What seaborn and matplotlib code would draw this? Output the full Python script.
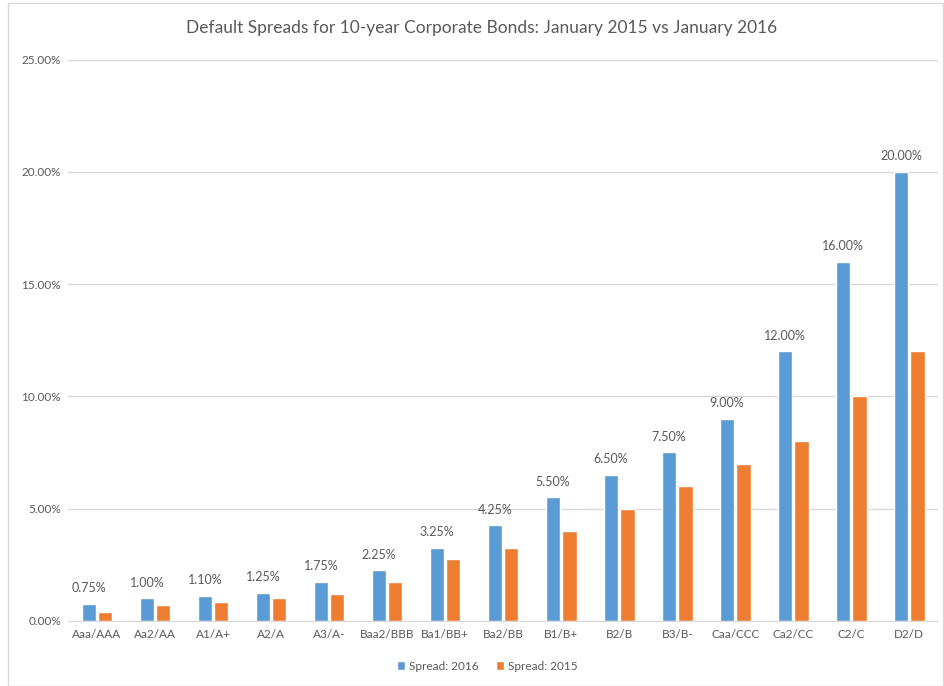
import pandas as pd
import matplotlib.pyplot as plt
import seaborn as sns
from matplotlib.patches import Rectangle
from matplotlib.ticker import FuncFormatter

# ===============================
# Data
# ===============================

ratings = ["Aaa/AAA", "Aa2/AA", "A1/A+", "A2/A", "A3/A-", "Baa2/BBB",
           "Ba1/BB+", "Ba2/BB", "B1/B+", "B2/B", "B3/B-", "Caa/CCC",
           "Ca2/CC", "C2/C", "D2/D"]
spread_2016 = [0.75, 1.00, 1.10, 1.25, 1.75, 2.25, 3.25, 4.25, 5.50, 6.50,
               7.50, 9.00, 12.00, 16.00, 20.00]
spread_2015 = [0.40, 0.70, 0.85, 1.00, 1.20, 1.75, 2.75, 3.25, 4.00, 5.00,
               6.00, 7.00, 8.00, 10.00, 12.00]
series_names = ["Spread: 2016", "Spread: 2015"]

df = pd.DataFrame({
    "Rating": ratings * 2,
    "Spread": spread_2016 + spread_2015,
    "Series": [series_names[0]] * len(ratings) + [series_names[1]] * len(ratings),
})

# ===============================
# Plot
# ===============================

sns.set_style("white")
plt.rcParams["font.family"] = ["Lato", "DejaVu Sans"]

text_gray = "#595959"

fig = plt.figure(figsize=(9.45, 6.86), dpi=100)
ax = fig.add_axes([0.072, 0.095, 0.921, 0.818])

sns.barplot(
    data=df,
    x="Rating",
    y="Spread",
    hue="Series",
    palette=["#5B9BD5", "#ED7D31"],
    saturation=1,
    width=0.56,
    gap=0.12,
    ax=ax,
)

ax.bar_label(ax.containers[0], fmt="%.2f%%", padding=7,
             fontsize=9, color=text_gray)

ax.set_ylim(0, 25)
ax.set_yticks([0, 5, 10, 15, 20, 25])
ax.yaxis.set_major_formatter(FuncFormatter(lambda v, p: f"{v:.2f}%"))
ax.grid(axis="y", color="#D9D9D9", linewidth=1)
ax.set_axisbelow(True)

for s in ["top", "right", "left"]:
    ax.spines[s].set_visible(False)
ax.spines["bottom"].set_color("#D9D9D9")

ax.tick_params(axis="both", length=0, labelsize=8.5, colors=text_gray)
ax.tick_params(axis="y", pad=5)
ax.tick_params(axis="x", pad=6)
ax.set_xlabel("")
ax.set_ylabel("")

fig.text(482 / 945, 1 - 28 / 686,
         "Default Spreads for 10-year Corporate Bonds: January 2015 vs January 2016",
         ha="center", va="center", fontsize=12.5, color=text_gray)

ax.legend(loc="center", bbox_to_anchor=(487 / 945, 1 - 666 / 686),
          bbox_transform=fig.transFigure, ncol=2,
          frameon=False, fontsize=8.5, handlelength=0.7, handleheight=0.7,
          handletextpad=0.3, columnspacing=1.5, labelcolor=text_gray)

# chart frame
fig.patches.append(Rectangle((8 / 945, 0), 935 / 945, 1 - 3 / 686,
                             transform=fig.transFigure, fill=False,
                             edgecolor="#D9D9D9", linewidth=1))

plt.savefig("out.png", dpi=100)
plt.close()
